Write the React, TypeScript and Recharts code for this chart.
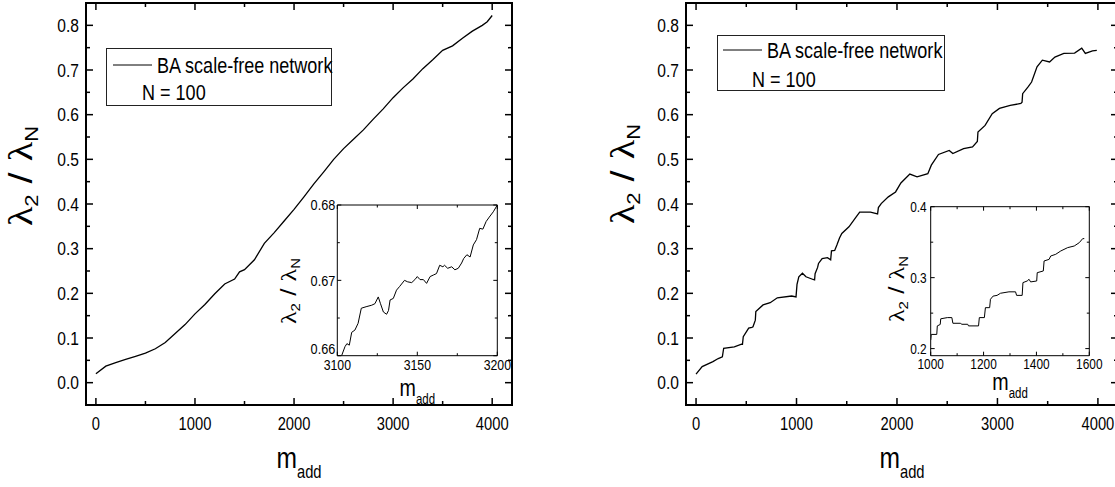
import { LineChart, Line, XAxis, YAxis, Legend, ReferenceArea } from 'recharts';

// original figure has its text squeezed horizontally
const SQUEEZE = 0.82;
const SANS = "'Liberation Sans', Arial, sans-serif";
const GREEK = "'Liberation Serif', 'Times New Roman', serif";

const seriesName = 'BA scale-free network';
const networkSize = 'N = 100';

// left panel, whole run [m_add, lambda2/lambdaN]
const leftMain: [number, number][] = [
  [0, 0.02], [100, 0.037], [200, 0.045], [300, 0.052], [400, 0.059], [500, 0.066],
  [600, 0.076], [700, 0.09], [800, 0.11], [900, 0.13], [1000, 0.154], [1100, 0.175],
  [1200, 0.199], [1300, 0.221], [1400, 0.232], [1450, 0.248], [1500, 0.253], [1600, 0.275],
  [1700, 0.312], [1800, 0.336], [1900, 0.362], [2000, 0.388], [2100, 0.416], [2200, 0.445],
  [2300, 0.472], [2400, 0.5], [2500, 0.524], [2600, 0.545], [2700, 0.566], [2800, 0.59],
  [2900, 0.613], [3000, 0.638], [3100, 0.66], [3200, 0.68], [3300, 0.703], [3400, 0.723],
  [3500, 0.744], [3600, 0.754], [3700, 0.771], [3800, 0.787], [3900, 0.8], [3950, 0.808],
  [4000, 0.822],
];

// left inset, zoom on 3100..3200
const leftInset: [number, number][] = [
  [3102.7, 0.66], [3104.8, 0.6612], [3106, 0.6616], [3107.5, 0.6614], [3109, 0.6631],
  [3111, 0.6634], [3113, 0.6643], [3115, 0.6663], [3118, 0.6665], [3121.5, 0.6667],
  [3123.5, 0.6669], [3125.6, 0.6678], [3127, 0.6669], [3128.8, 0.6658], [3130.8, 0.6655],
  [3132, 0.666], [3133, 0.6674], [3135, 0.6676], [3137, 0.6687], [3139, 0.6692],
  [3142, 0.67], [3144, 0.6698], [3146.5, 0.6697], [3148.5, 0.6701], [3150, 0.6705],
  [3151.7, 0.6701], [3153.8, 0.6701], [3155.8, 0.6696], [3158, 0.6705], [3160, 0.6707],
  [3162, 0.6709], [3164, 0.672], [3166, 0.6718], [3167, 0.672], [3169, 0.6716],
  [3171.5, 0.6718], [3173.5, 0.6714], [3175.6, 0.6716], [3177.7, 0.6723], [3179, 0.6729],
  [3181, 0.6734], [3183, 0.6731], [3185, 0.6747], [3187, 0.6754], [3189, 0.6769],
  [3191, 0.6768], [3193, 0.6778], [3195, 0.6784], [3197.5, 0.6791], [3200, 0.68],
];

// right panel, whole run
const rightMain: [number, number][] = [
  [0, 0.019], [61, 0.036], [168, 0.047], [221, 0.054], [262, 0.058], [275, 0.077],
  [381, 0.08], [453, 0.086], [462, 0.086], [470, 0.103], [524, 0.122], [555, 0.124],
  [567, 0.125], [590, 0.14], [595, 0.159], [667, 0.174], [738, 0.179], [809, 0.19],
  [952, 0.194], [995, 0.192], [1005, 0.22], [1023, 0.237], [1059, 0.245], [1094, 0.237],
  [1166, 0.231], [1180, 0.23], [1185, 0.244], [1210, 0.258], [1219, 0.267], [1255, 0.278],
  [1308, 0.28], [1340, 0.275], [1348, 0.295], [1380, 0.296], [1402, 0.308], [1428, 0.324],
  [1451, 0.334], [1522, 0.349], [1594, 0.371], [1629, 0.382], [1736, 0.382], [1807, 0.378],
  [1815, 0.392], [1843, 0.401], [1914, 0.416], [1986, 0.427], [2039, 0.447], [2128, 0.467],
  [2200, 0.461], [2307, 0.468], [2342, 0.487], [2413, 0.511], [2520, 0.52], [2556, 0.513],
  [2663, 0.524], [2752, 0.528], [2800, 0.54], [2806, 0.561], [2877, 0.576], [2948, 0.602],
  [3020, 0.614], [3127, 0.621], [3233, 0.625], [3245, 0.628], [3251, 0.647], [3305, 0.662],
  [3340, 0.673], [3394, 0.707], [3447, 0.722], [3519, 0.718], [3572, 0.729], [3661, 0.737],
  [3768, 0.738], [3839, 0.749], [3875, 0.737], [3946, 0.743], [3989, 0.744],
];

// right inset, zoom on 1000..1600
const rightInset: [number, number][] = [
  [1000, 0.212], [1002, 0.22], [1023, 0.22], [1025, 0.232], [1036, 0.234], [1038, 0.242],
  [1063, 0.2437], [1080, 0.2437], [1084, 0.2357], [1112, 0.2357], [1118, 0.2343],
  [1140, 0.2343], [1143, 0.232], [1181, 0.232], [1184, 0.2437], [1203, 0.2437],
  [1207, 0.2577], [1223, 0.2577], [1226, 0.2695], [1236, 0.274], [1251, 0.275],
  [1264, 0.278], [1296, 0.28], [1321, 0.28], [1325, 0.275], [1346, 0.275], [1349, 0.293],
  [1365, 0.2953], [1372, 0.2977], [1378, 0.294], [1401, 0.2953], [1403, 0.307],
  [1426, 0.3094], [1429, 0.3235], [1448, 0.3258], [1454, 0.3305], [1473, 0.3329],
  [1492, 0.3376], [1518, 0.3423], [1543, 0.3446], [1562, 0.3493], [1575, 0.355], [1581, 0.355],
];

const mainXTicks = [0, 500, 1000, 1500, 2000, 2500, 3000, 3500, 4000];
const mainYTicks = [0, 0.05, 0.1, 0.15, 0.2, 0.25, 0.3, 0.35, 0.4, 0.45, 0.5, 0.55, 0.6, 0.65, 0.7, 0.75, 0.8];
const leftInsetXTicks = [3100, 3125, 3150, 3175, 3200];
const leftInsetYTicks = [0.66, 0.665, 0.67, 0.675, 0.68];
const rightInsetXTicks = [1000, 1100, 1200, 1300, 1400, 1500, 1600];
const rightInsetYTicks = [0.2, 0.25, 0.3, 0.35, 0.4];

const onStep = (v: number, step: number) => Math.abs(v / step - Math.round(v / step)) < 1e-6;

type TickStyle = {
  long: number;
  short: number;
  size: number;
  gap: number;
  sw: number;
  lift?: number; // raise the label of the lowest tick
};

const InwardTick = (props: any) => {
  const { x, y, payload, side, span, isMajor, fmt, st, low } = props;
  const v = payload.value;
  const major = isMajor(v);
  const len = major ? st.long : st.short;
  if (side === 'bottom') {
    return (
      <g>
        <line x1={x} y1={y} x2={x} y2={y - len} stroke="#000" strokeWidth={st.sw} />
        <line x1={x} y1={y - span} x2={x} y2={y - span + len} stroke="#000" strokeWidth={st.sw} />
        {major && (
          <text
            transform={`translate(${x},${y + st.gap}) scale(${SQUEEZE},1)`}
            textAnchor="middle"
            dominantBaseline="central"
            fontFamily={SANS}
            fontSize={st.size}
            fill="#000"
          >
            {fmt(v)}
          </text>
        )}
      </g>
    );
  }
  const ly = v === low && st.lift ? y - st.lift : y;
  return (
    <g>
      <line x1={x} y1={y} x2={x + len} y2={y} stroke="#000" strokeWidth={st.sw} />
      <line x1={x + span} y1={y} x2={x + span - len} y2={y} stroke="#000" strokeWidth={st.sw} />
      {major && (
        <text
          transform={`translate(${x - st.gap},${ly}) scale(${SQUEEZE},1)`}
          textAnchor="end"
          dominantBaseline="central"
          fontFamily={SANS}
          fontSize={st.size}
          fill="#000"
        >
          {fmt(v)}
        </text>
      )}
    </g>
  );
};

const XTitle = ({ cx, y, big, small, drop }: any) => (
  <text transform={`translate(${cx},${y}) scale(${SQUEEZE},1)`} textAnchor="middle" fontFamily={SANS} fill="#000">
    <tspan fontSize={big}>m</tspan>
    <tspan fontSize={small} dy={drop}>add</tspan>
  </text>
);

const YTitle = ({ x, y, big, small, drop }: any) => (
  <text transform={`translate(${x},${y}) scale(${SQUEEZE},1) rotate(-90)`} textAnchor="middle" fill="#000">
    <tspan fontFamily={GREEK} fontSize={big}>λ</tspan>
    <tspan fontFamily={SANS} fontSize={small} dy={drop}>2</tspan>
    <tspan fontFamily={SANS} fontSize={big} dy={-drop}>{' / '}</tspan>
    <tspan fontFamily={GREEK} fontSize={big}>λ</tspan>
    <tspan fontFamily={SANS} fontSize={small} dy={drop}>N</tspan>
  </text>
);

const LegendBox = ({ name, w, h, lineFrom, lineTo, textX, nX, row1, row2 }: any) => (
  <svg width={w} height={h} style={{ display: 'block', overflow: 'visible' }}>
    <rect x={0.5} y={0.5} width={w - 1} height={h - 1} fill="#fff" stroke="#222" strokeWidth={1} />
    <line x1={lineFrom} y1={row1} x2={lineTo} y2={row1} stroke="#000" strokeWidth={1} />
    <text transform={`translate(${textX},${row1}) scale(${SQUEEZE},1)`} dominantBaseline="central" fontFamily={SANS} fontSize={22} fill="#000">
      {name}
    </text>
    <text transform={`translate(${nX},${row2}) scale(${SQUEEZE},1)`} dominantBaseline="central" fontFamily={SANS} fontSize={22} fill="#000">
      {networkSize}
    </text>
  </svg>
);

type PlotCfg = {
  points: [number, number][];
  left: number;
  top: number;
  width: number;
  height: number;
  // plot-box distances from the svg edges
  box: { top: number; right: number; bottom: number; left: number };
  xDomain: [number, number];
  yDomain: [number, number];
  xTicks: number[];
  yTicks: number[];
  xMajor: (v: number) => boolean;
  yMajor: (v: number) => boolean;
  yFmt: (v: number) => string;
  xStyle: TickStyle;
  yStyle: TickStyle;
  frame: number;
  lineWidth: number;
  xTitle: { dy: number; big: number; small: number; drop: number };
  yTitle: { x: number; y: number; big: number; small: number; drop: number };
  legend?: any;
};

const Plot = ({ cfg }: { cfg: PlotCfg }) => {
  const data = cfg.points.map(([x, y]) => ({ x, y }));
  const { box } = cfg;
  const plotW = cfg.width - box.left - box.right;
  const plotH = cfg.height - box.top - box.bottom;
  return (
    <div style={{ position: 'absolute', left: cfg.left, top: cfg.top }}>
      <LineChart
        width={cfg.width}
        height={cfg.height}
        data={data}
        margin={{ top: box.top, right: box.right, bottom: box.bottom - 1, left: box.left - 1 }}
      >
        <XAxis
          dataKey="x"
          type="number"
          domain={cfg.xDomain}
          ticks={cfg.xTicks}
          interval={0}
          allowDataOverflow
          height={1}
          axisLine={false}
          tickLine={false}
          tickSize={0}
          tickMargin={0}
          tick={(p: any) => (
            <InwardTick {...p} side="bottom" span={plotH} isMajor={cfg.xMajor} fmt={(v: number) => String(v)} st={cfg.xStyle} />
          )}
          label={() => (
            <XTitle
              cx={box.left + plotW / 2}
              y={box.top + plotH + cfg.xTitle.dy}
              big={cfg.xTitle.big}
              small={cfg.xTitle.small}
              drop={cfg.xTitle.drop}
            />
          )}
        />
        <YAxis
          type="number"
          domain={cfg.yDomain}
          ticks={cfg.yTicks}
          interval={0}
          allowDataOverflow
          width={1}
          axisLine={false}
          tickLine={false}
          tickSize={0}
          tickMargin={0}
          tick={(p: any) => (
            <InwardTick
              {...p}
              side="left"
              span={plotW}
              isMajor={cfg.yMajor}
              fmt={cfg.yFmt}
              st={cfg.yStyle}
              low={cfg.yTicks[0]}
            />
          )}
          label={() => <YTitle {...cfg.yTitle} />}
        />
        <ReferenceArea
          x1={cfg.xDomain[0]}
          x2={cfg.xDomain[1]}
          y1={cfg.yDomain[0]}
          y2={cfg.yDomain[1]}
          fill="none"
          fillOpacity={0}
          stroke="#000"
          strokeWidth={cfg.frame}
          ifOverflow="visible"
        />
        <Line
          dataKey="y"
          name={seriesName}
          type="linear"
          stroke="#000"
          strokeWidth={cfg.lineWidth}
          dot={false}
          activeDot={false}
          isAnimationActive={false}
        />
        {cfg.legend && (
          <Legend
            layout="vertical"
            align="center"
            verticalAlign="middle"
            wrapperStyle={{ left: cfg.legend.x, top: cfg.legend.y, width: cfg.legend.w, height: cfg.legend.h }}
            content={(p: any) => <LegendBox name={p?.payload?.[0]?.value ?? seriesName} {...cfg.legend} />}
          />
        )}
      </LineChart>
    </div>
  );
};

const mainTicks: TickStyle = { long: 7, short: 4, size: 18, gap: 18, sw: 1.5 };
const mainYTickStyle: TickStyle = { long: 7, short: 4, size: 19, gap: 7, sw: 1.5 };
const insetX: TickStyle = { long: 4, short: 2.5, size: 15, gap: 9.5, sw: 1 };
const insetY: TickStyle = { long: 4, short: 2.5, size: 15.5, gap: 2, sw: 1, lift: 7 };

const mainShared = {
  height: 487,
  xDomain: [-100, 4200] as [number, number],
  yDomain: [-0.05, 0.85] as [number, number],
  xTicks: mainXTicks,
  yTicks: mainYTicks,
  xMajor: (v: number) => onStep(v, 1000),
  yMajor: (v: number) => onStep(v, 0.1),
  yFmt: (v: number) => v.toFixed(1),
  xStyle: mainTicks,
  yStyle: mainYTickStyle,
  frame: 2,
  lineWidth: 1.3,
  xTitle: { dy: 63, big: 30, small: 18, drop: 10 },
};

const leftCfg: PlotCfg = {
  ...mainShared,
  points: leftMain,
  left: 0,
  top: 0,
  width: 560,
  box: { top: 3, right: 48, bottom: 82, left: 86 },
  yTitle: { x: 32, y: 176, big: 40, small: 22, drop: 7 },
  legend: { x: 106, y: 48, w: 226, h: 58, lineFrom: 7, lineTo: 46, textX: 51, nX: 36, row1: 17, row2: 44 },
};

const rightCfg: PlotCfg = {
  ...mainShared,
  points: rightMain,
  left: 560,
  top: 0,
  width: 560,
  box: { top: 3, right: 2, bottom: 82, left: 126 },
  yTitle: { x: 74, y: 174, big: 40, small: 22, drop: 7 },
  legend: { x: 157, y: 35, w: 228, h: 56, lineFrom: 6, lineTo: 45, textX: 50, nX: 35, row1: 15, row2: 44 },
};

const leftInsetCfg: PlotCfg = {
  points: leftInset,
  left: 265,
  top: 195,
  width: 255,
  height: 215,
  box: { top: 10, right: 22.7, bottom: 54.3, left: 72.3 },
  xDomain: [3100, 3200],
  yDomain: [0.66, 0.68],
  xTicks: leftInsetXTicks,
  yTicks: leftInsetYTicks,
  xMajor: (v: number) => onStep(v, 50),
  yMajor: (v: number) => onStep(v, 0.01),
  yFmt: (v: number) => v.toFixed(2),
  xStyle: insetX,
  yStyle: insetY,
  frame: 1,
  lineWidth: 1,
  xTitle: { dy: 40, big: 24, small: 14, drop: 8 },
  yTitle: { x: 31, y: 96, big: 26, small: 15, drop: 5 },
};

const rightInsetCfg: PlotCfg = {
  points: rightInset,
  left: 860,
  top: 195,
  width: 250,
  height: 215,
  box: { top: 11.7, right: 20.7, bottom: 54.3, left: 70.7 },
  xDomain: [1000, 1600],
  yDomain: [0.19, 0.4],
  xTicks: rightInsetXTicks,
  yTicks: rightInsetYTicks,
  xMajor: (v: number) => onStep(v, 200),
  yMajor: (v: number) => onStep(v, 0.1),
  yFmt: (v: number) => v.toFixed(1),
  xStyle: { ...insetX, size: 14.5, gap: 8 },
  yStyle: { ...insetY, size: 14.5, gap: 4, lift: 0 },
  frame: 1,
  lineWidth: 1,
  xTitle: { dy: 34, big: 24, small: 14, drop: 8 },
  yTitle: { x: 44, y: 94, big: 26, small: 15, drop: 5 },
};

export default function App() {
  return (
    <div
      style={{
        position: 'absolute',
        left: 0,
        top: 0,
        width: 1115,
        height: 487,
        overflow: 'hidden',
        background: '#fff',
      }}
    >
      <Plot cfg={leftCfg} />
      <Plot cfg={rightCfg} />
      <Plot cfg={leftInsetCfg} />
      <Plot cfg={rightInsetCfg} />
    </div>
  );
}
